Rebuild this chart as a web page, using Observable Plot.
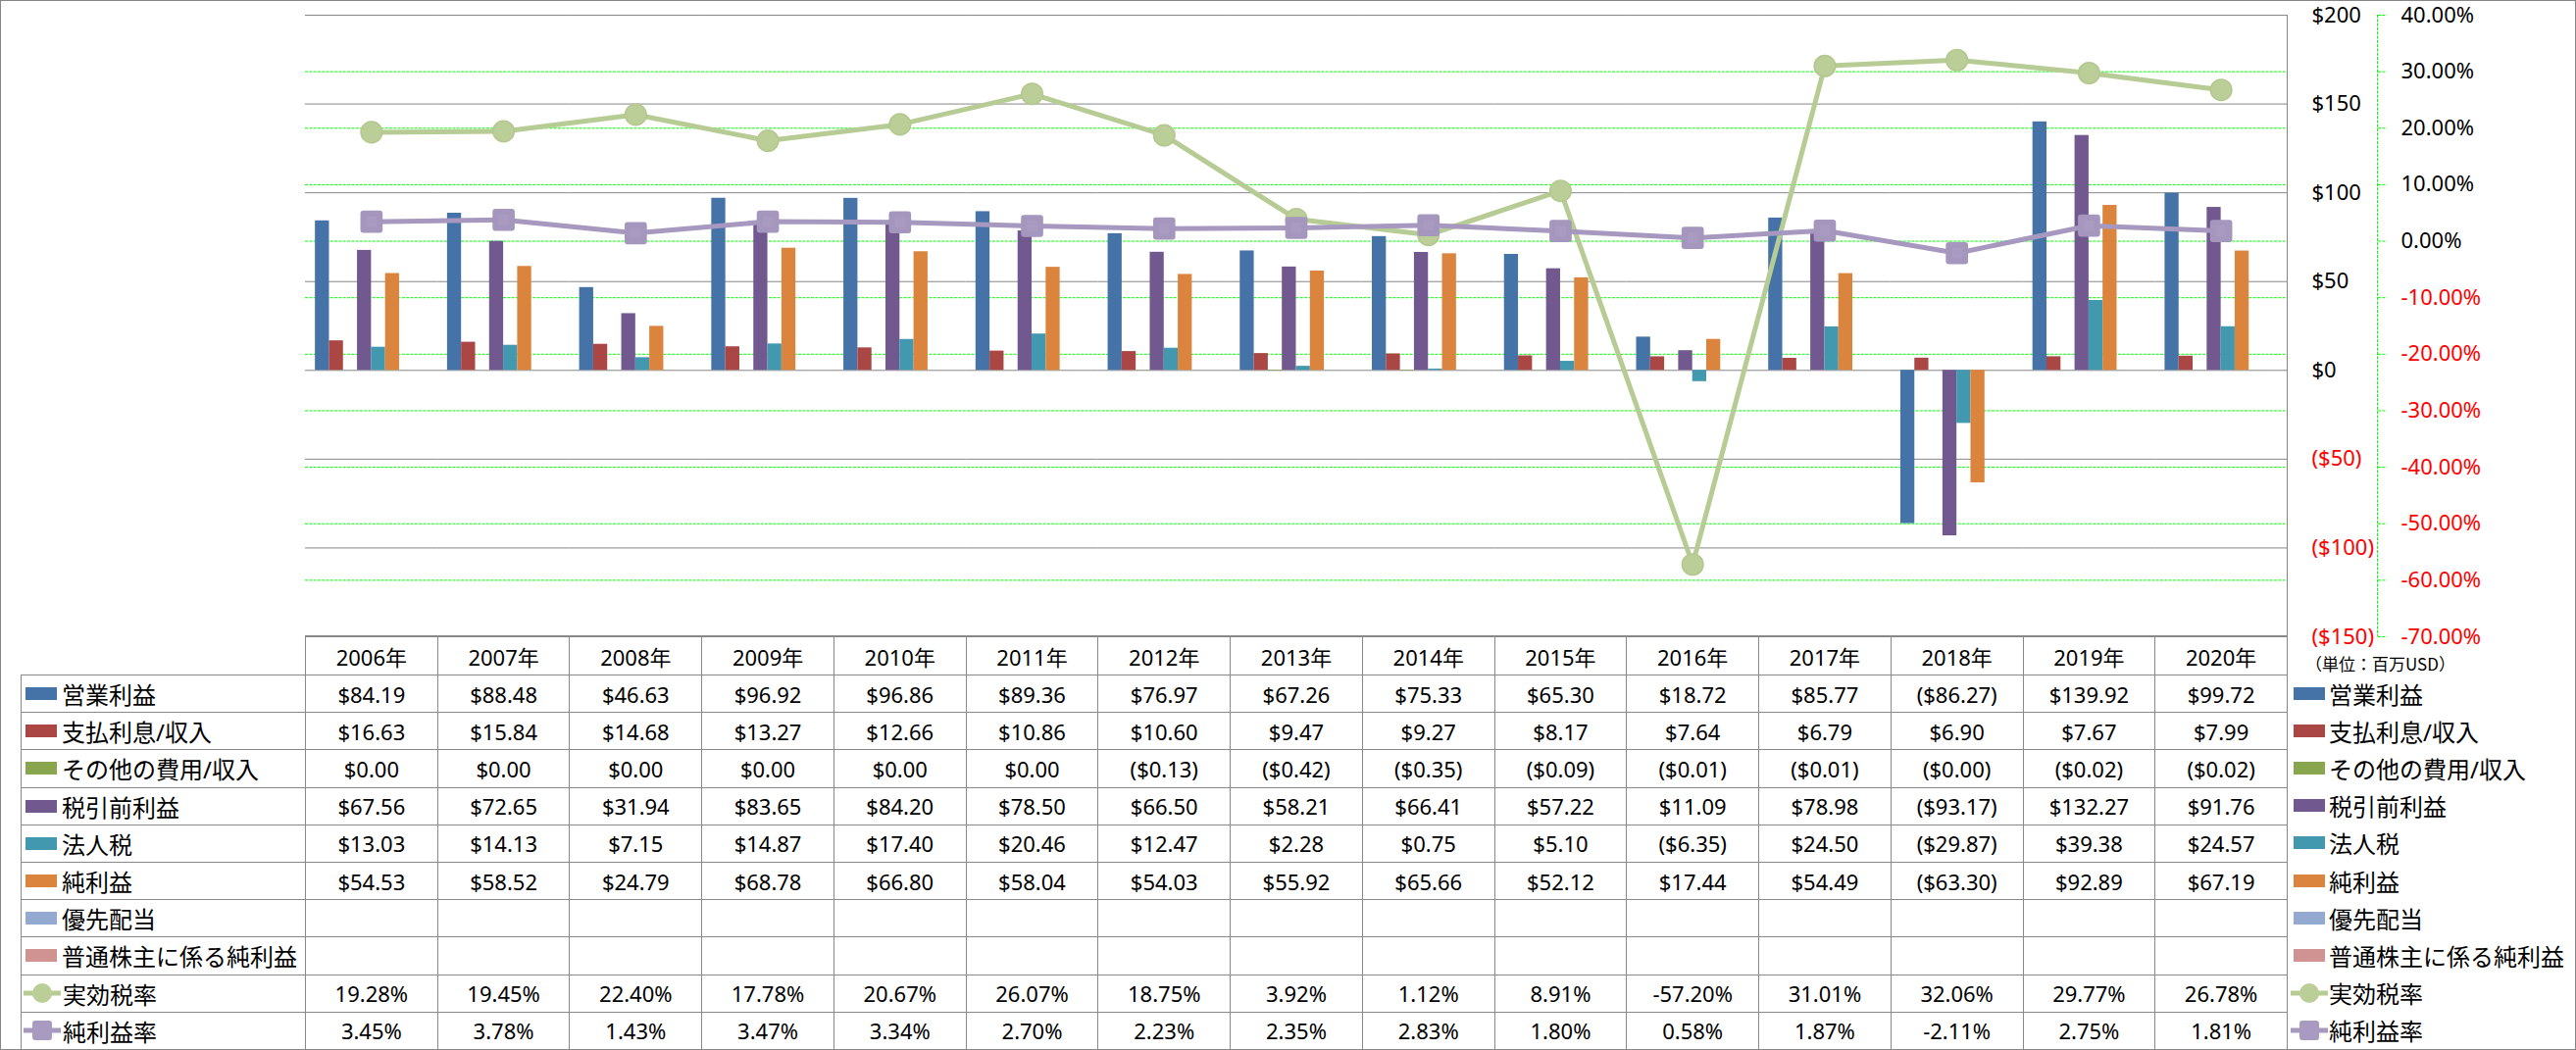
<!DOCTYPE html>
<html>
<head>
<meta charset="utf-8">
<script src="https://cdn.jsdelivr.net/npm/d3@7"></script>
<script src="https://cdn.jsdelivr.net/npm/@observablehq/plot@0.6"></script>
<style>
html, body { margin: 0; padding: 0; background: #fff; }
#chart { position: relative; width: 2627px; height: 1071px; overflow: hidden; background: #fff;
  font-family: "Noto Sans", "Noto Sans CJK JP", sans-serif; color: #000; }
.layer { position: absolute; left: 0; top: 0; }
.cell { position: absolute; box-sizing: border-box; border-left: 1px solid #898989; border-top: 1px solid #898989;
  display: flex; align-items: center; justify-content: center; font-size: 22px; white-space: nowrap; }
.lab { justify-content: flex-start; font-size: 24px; }
.leg { position: absolute; display: flex; align-items: center; font-size: 24px; white-space: nowrap; }
.sw { display: inline-block; width: 32px; height: 13px; }
#frame { position: absolute; left: 0; top: 0; width: 2627px; height: 1071px; box-sizing: border-box;
  border: 1px solid #868686; pointer-events: none; }
#unit { position: absolute; left: 2351px; top: 664px; font-size: 17px; font-family: "Noto Sans CJK JP", sans-serif; white-space: nowrap; }
</style>
</head>
<body>
<div id="chart"></div>
<script>
// ---------- data ----------
const years = ["2006年","2007年","2008年","2009年","2010年","2011年","2012年","2013年","2014年","2015年","2016年","2017年","2018年","2019年","2020年"];
const seriesNames = ["営業利益","支払利息/収入","その他の費用/収入","税引前利益","法人税","純利益","優先配当","普通株主に係る純利益"];
const lineNames = ["実効税率","純利益率"];

const operatingIncome = [84.19, 88.48, 46.63, 96.92, 96.86, 89.36, 76.97, 67.26, 75.33, 65.30, 18.72, 85.77, -86.27, 139.92, 99.72];
const interestExpense = [16.63, 15.84, 14.68, 13.27, 12.66, 10.86, 10.60, 9.47, 9.27, 8.17, 7.64, 6.79, 6.90, 7.67, 7.99];
const otherExpense = [0.00, 0.00, 0.00, 0.00, 0.00, 0.00, -0.13, -0.42, -0.35, -0.09, -0.01, -0.01, -0.001, -0.02, -0.02];
const pretaxIncome = [67.56, 72.65, 31.94, 83.65, 84.20, 78.50, 66.50, 58.21, 66.41, 57.22, 11.09, 78.98, -93.17, 132.27, 91.76];
const incomeTax = [13.03, 14.13, 7.15, 14.87, 17.40, 20.46, 12.47, 2.28, 0.75, 5.10, -6.35, 24.50, -29.87, 39.38, 24.57];
const netIncome = [54.53, 58.52, 24.79, 68.78, 66.80, 58.04, 54.03, 55.92, 65.66, 52.12, 17.44, 54.49, -63.30, 92.89, 67.19];
const preferredDividends = [null, null, null, null, null, null, null, null, null, null, null, null, null, null, null];
const netIncomeCommon = [null, null, null, null, null, null, null, null, null, null, null, null, null, null, null];

const effectiveTaxRate = [19.28, 19.45, 22.40, 17.78, 20.67, 26.07, 18.75, 3.92, 1.12, 8.91, -57.20, 31.01, 32.06, 29.77, 26.78];
const netMargin = [3.45, 3.78, 1.43, 3.47, 3.34, 2.70, 2.23, 2.35, 2.83, 1.80, 0.58, 1.87, -2.11, 2.75, 1.81];

const dollarTicks = [-150, -100, -50, 0, 50, 100, 150, 200];
const pctTicks = [-70, -60, -50, -40, -30, -20, -10, 0, 10, 20, 30, 40];

const barColors = ["#4572a7", "#aa4643", "#89a54e", "#71588f", "#4198af", "#db843d", "#93a9cf", "#d19392"];
const lineColors = ["#b7cc94", "#a698be"];

// ---------- layout ----------
const W = 2627, SVG_H = 680;
const ML = 311, MR = 295, MT = 15, MB = 31;
const font = "'Noto Sans', 'Noto Sans CJK JP', sans-serif";
const baseStyle = {background: "transparent", fontSize: "22px", fontFamily: font, overflow: "visible", color: "#000"};

const barSeries = [operatingIncome, interestExpense, otherExpense, pretaxIncome, incomeTax, netIncome, preferredDividends, netIncomeCommon];
const barData = [];
barSeries.forEach((vals, s) => vals.forEach((v, i) => {
  if (v != null) barData.push({year: years[i], series: seriesNames[s], value: v});
}));
const rateData = years.map((y, i) => ({year: y, value: effectiveTaxRate[i]}));
const marginData = years.map((y, i) => ({year: y, value: netMargin[i]}));

const fmtDollar = d => d < 0 ? `($${-d})` : `$${d}`;
const fmtPctTick = d => d.toFixed(2) + "%";
const fmtMoney = v => v < 0 ? `($${Math.abs(v).toFixed(2)})` : `$${v.toFixed(2)}`;
const fmtPct = v => v.toFixed(2) + "%";

const chart = document.getElementById("chart");
const dash = "3,1.3";

// Layer 0: percent gridlines + secondary axis
const pctPlot = Plot.plot({
  width: W, height: SVG_H, marginLeft: ML, marginRight: MR, marginTop: MT, marginBottom: MB,
  style: baseStyle,
  x: {domain: [0, 1], axis: null},
  y: {domain: [-70, 40]},
  marks: [
    Plot.gridY(pctTicks, {stroke: "#00ff00", strokeOpacity: 1, strokeWidth: 1, strokeDasharray: dash}),
    Plot.ruleX([1], {stroke: "#00ff00", strokeDasharray: dash, dx: 92}),
    Plot.axisY(pctTicks.filter(d => d >= 0), {anchor: "right", dx: 92, tickSize: 9, tickPadding: 15, textAnchor: "start",
      tickFormat: fmtPctTick, stroke: "#00ff00", strokeDasharray: dash, fill: "#000", label: null}),
    Plot.axisY(pctTicks.filter(d => d < 0), {anchor: "right", dx: 92, tickSize: 9, tickPadding: 15, textAnchor: "start",
      tickFormat: fmtPctTick, stroke: "#00ff00", strokeDasharray: dash, fill: "#ff0000", label: null}),
    Plot.ruleX([1], {stroke: "#868686"})
  ]
});
pctPlot.classList.add("layer");
chart.appendChild(pctPlot);

// Layer 1: bars with primary grid and axis
const barPlot = Plot.plot({
  width: W, height: SVG_H, marginLeft: ML, marginRight: MR, marginTop: MT, marginBottom: MB,
  style: baseStyle,
  fx: {domain: years, padding: 0, axis: null, label: null, round: false},
  x: {domain: seriesNames, paddingInner: 0, paddingOuter: 0.71, axis: null, round: false},
  y: {domain: [-150, 200]},
  color: {domain: seriesNames, range: barColors},
  marks: [
    Plot.gridY(dollarTicks, {stroke: "#868686", strokeOpacity: 1, strokeWidth: 1}),
    Plot.barY(barData, {fx: "year", x: "series", y: "value", fill: "series"}),
    Plot.axisY(dollarTicks.filter(d => d >= 0), {anchor: "right", tickSize: 0, tickPadding: 25, textAnchor: "start",
      tickFormat: fmtDollar, fill: "#000", label: null}),
    Plot.axisY(dollarTicks.filter(d => d < 0), {anchor: "right", tickSize: 0, tickPadding: 25, textAnchor: "start",
      tickFormat: fmtDollar, fill: "#ff0000", label: null})
  ]
});
barPlot.classList.add("layer");
chart.appendChild(barPlot);

// Layer 2: lines on the secondary (percent) scale
const linePlot = Plot.plot({
  width: W, height: SVG_H, marginLeft: ML, marginRight: MR, marginTop: MT, marginBottom: MB,
  style: baseStyle,
  x: {type: "point", domain: years, padding: 0.5, round: false, axis: null},
  y: {domain: [-70, 40], axis: null},
  marks: [
    Plot.line(rateData, {x: "year", y: "value", stroke: lineColors[0], strokeWidth: 5}),
    Plot.dot(rateData, {x: "year", y: "value", r: 10.8, fill: "#bbce98", stroke: "#b3c88e", strokeWidth: 1.5}),
    Plot.line(marginData, {x: "year", y: "value", stroke: lineColors[1], strokeWidth: 5}),
    Plot.dot(marginData, {x: "year", y: "value", symbol: "square", r: 9.4, fill: "#a99ac1", stroke: "#a596bd",
      strokeWidth: 6, strokeLinejoin: "round"})
  ]
});
linePlot.classList.add("layer");
chart.appendChild(linePlot);

// ---------- data table ----------
const colX = d3.scaleBand(years, [ML, W - MR]);
const labelLeft = 21;
const headerTop = 648, headerH = 40, rowTop0 = 688, rowH = 38.2;

function cell(left, top, w, h, cls) {
  const d = document.createElement("div");
  d.className = "cell" + (cls ? " " + cls : "");
  Object.assign(d.style, {left: left + "px", top: top + "px", width: w + "px", height: h + "px"});
  chart.appendChild(d);
  return d;
}

function swatch(idx, isLine) {
  if (!isLine) {
    const s = document.createElement("span");
    s.className = "sw";
    s.style.background = barColors[idx];
    return s;
  }
  const ns = "http://www.w3.org/2000/svg";
  const svg = document.createElementNS(ns, "svg");
  svg.setAttribute("width", 38); svg.setAttribute("height", 26);
  svg.style.display = "block";
  const ln = document.createElementNS(ns, "line");
  ln.setAttribute("x1", 0); ln.setAttribute("x2", 38); ln.setAttribute("y1", 13); ln.setAttribute("y2", 13);
  ln.setAttribute("stroke", lineColors[idx]); ln.setAttribute("stroke-width", 5);
  svg.appendChild(ln);
  if (idx === 0) {
    const c = document.createElementNS(ns, "circle");
    c.setAttribute("cx", 19); c.setAttribute("cy", 13); c.setAttribute("r", 10);
    c.setAttribute("fill", "#bbce98");
    svg.appendChild(c);
  } else {
    const r = document.createElementNS(ns, "rect");
    r.setAttribute("x", 9); r.setAttribute("y", 3); r.setAttribute("width", 20); r.setAttribute("height", 20);
    r.setAttribute("rx", 3); r.setAttribute("fill", "#a99ac1");
    svg.appendChild(r);
  }
  return svg;
}

// header
years.forEach((y, i) => {
  const c = cell(colX(y), headerTop, colX.bandwidth() + (i === years.length - 1 ? 1 : 0), headerH);
  if (i === years.length - 1) c.style.borderRight = "1px solid #898989";
  c.textContent = y;
});

const rows = [
  ...seriesNames.map((n, s) => ({name: n, vals: barSeries[s], fmt: fmtMoney, idx: s, isLine: false})),
  {name: lineNames[0], vals: effectiveTaxRate, fmt: fmtPct, idx: 0, isLine: true},
  {name: lineNames[1], vals: netMargin, fmt: fmtPct, idx: 1, isLine: true}
];

rows.forEach((row, r) => {
  const top = rowTop0 + r * rowH;
  const last = r === rows.length - 1;
  const lc = cell(labelLeft, top, ML - labelLeft, rowH + (last ? 1 : 0), "lab");
  if (last) lc.style.borderBottom = "1px solid #898989";
  const sw = swatch(row.idx, row.isLine);
  sw.style.marginLeft = row.isLine ? "2px" : "4px";
  sw.style.marginRight = row.isLine ? "2px" : "5px";
  lc.appendChild(sw);
  lc.appendChild(document.createTextNode(row.name));
  years.forEach((y, i) => {
    const lastCol = i === years.length - 1;
    const c = cell(colX(y), top, colX.bandwidth() + (lastCol ? 1 : 0), rowH + (last ? 1 : 0));
    if (lastCol) c.style.borderRight = "1px solid #898989";
    if (last) c.style.borderBottom = "1px solid #898989";
    const v = row.vals[i];
    c.textContent = v == null ? "" : row.fmt(v);
  });
  const lg = document.createElement("div");
  lg.className = "leg";
  Object.assign(lg.style, {left: (row.isLine ? 2336 : 2339) + "px", top: top + "px", height: rowH + "px"});
  const sw2 = swatch(row.idx, row.isLine);
  sw2.style.marginRight = row.isLine ? "1px" : "4px";
  lg.appendChild(sw2);
  lg.appendChild(document.createTextNode(row.name));
  chart.appendChild(lg);
});

const unit = document.createElement("div");
unit.id = "unit";
unit.textContent = "（単位：百万USD）";
chart.appendChild(unit);

const frame = document.createElement("div");
frame.id = "frame";
chart.appendChild(frame);
</script>
</body>
</html>
